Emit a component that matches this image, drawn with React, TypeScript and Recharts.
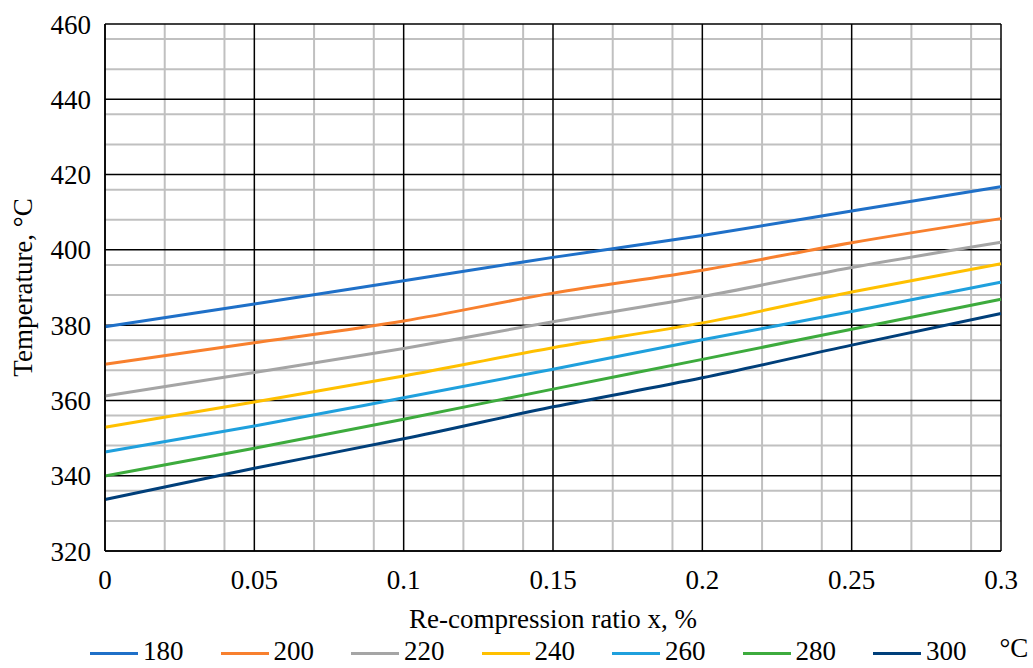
import React from 'react';
import { LineChart, Line, XAxis, YAxis, CartesianGrid } from 'recharts';

// re-compression ratio (x axis)
const ratios = [0, 0.05, 0.1, 0.15, 0.2, 0.25, 0.3];

// temperature curves, one per inlet temperature
const t180 = [379.6, 385.6, 391.8, 398.0, 403.8, 410.3, 416.8];
const t200 = [369.6, 375.3, 381.1, 388.5, 394.6, 401.9, 408.3];
const t220 = [361.2, 367.4, 373.8, 380.9, 387.6, 395.3, 402.0];
const t240 = [352.9, 359.6, 366.5, 374.0, 380.6, 388.8, 396.3];
const t260 = [346.3, 353.2, 360.7, 368.3, 376.1, 383.6, 391.4];
const t280 = [339.9, 347.3, 355.0, 363.0, 370.9, 378.9, 386.9];
const t300 = [333.7, 342.0, 349.8, 358.3, 366.0, 374.7, 383.1];

const xTicks = [0, 0.05, 0.1, 0.15, 0.2, 0.25, 0.3];
const xTickLabels = ['0', '0.05', '0.1', '0.15', '0.2', '0.25', '0.3'];
const yTicks = [320, 340, 360, 380, 400, 420, 440, 460];
const xMinor = [0.01, 0.02, 0.03, 0.04, 0.06, 0.07, 0.08, 0.09, 0.11, 0.12, 0.13, 0.14, 0.16, 0.17, 0.18, 0.19, 0.21, 0.22, 0.23, 0.24, 0.26, 0.27, 0.28, 0.29];
const yMinor = [324, 328, 332, 336, 344, 348, 352, 356, 364, 368, 372, 376, 384, 388, 392, 396, 404, 408, 412, 416, 424, 428, 432, 436, 444, 448, 452, 456];

const seriesNames = ['180', '200', '220', '240', '260', '280', '300'];
const seriesValues = [t180, t200, t220, t240, t260, t280, t300];
const colors = ['#1F70C8', '#F8802E', '#A5A5A5', '#FFC000', '#1FA0DD', '#3DAB3D', '#003F7A'];

const data = ratios.map((x, i) => {
  const row: any = { x };
  seriesNames.forEach((n, k) => {
    row[n] = seriesValues[k][i];
  });
  return row;
});

const font = "'Liberation Serif', serif";
const css = `
  .chart-box, .chart-box text, .chart-box span { font-family: 'Liberation Serif', serif !important; }
`;

export default function App() {
  return (
    <div className="chart-box" style={{ position: 'absolute', left: 0, top: 0, width: 1033, height: 668, background: '#fff', fontFamily: font, overflow: 'hidden' }}>
      <style>{css}</style>
      <LineChart width={1033} height={668} data={data} margin={{ top: 24, right: 32, left: 0, bottom: 0 }}>
        <CartesianGrid
          stroke="#c0c0c0"
          strokeWidth={2}
          horizontalValues={yMinor}
          verticalValues={xMinor}
        />
        <CartesianGrid stroke="#000" strokeWidth={1.5} horizontalValues={yTicks} verticalValues={xTicks} />
        <XAxis
          dataKey="x"
          type="number"
          domain={[0, 0.3]}
          ticks={xTicks}
          tickFormatter={(v: number) => xTickLabels[xTicks.indexOf(v)] ?? String(v)}
          height={117}
          tickLine={false}
          tickSize={0}
          tickMargin={19}
          axisLine={{ stroke: '#000', strokeWidth: 1.5 }}
          tick={{ fill: '#000', fontSize: 27, fontFamily: font }}
          label={{ value: 'Re-compression ratio x, %', position: 'insideBottom', offset: 40, fill: '#000', fontSize: 27, fontFamily: font }}
        />
        <YAxis
          type="number"
          domain={[320, 460]}
          ticks={yTicks}
          width={105}
          tickLine={false}
          tickSize={0}
          tickMargin={14}
          axisLine={{ stroke: '#000', strokeWidth: 1.5 }}
          tick={{ fill: '#000', fontSize: 27, fontFamily: font }}
          label={{ value: 'Temperature, °C', angle: -90, position: 'insideLeft', offset: 22, fill: '#000', fontSize: 27, fontFamily: font, style: { textAnchor: 'middle' } }}
        />
        {seriesNames.map((n, k) => (
          <Line
            key={n}
            type="monotone"
            dataKey={n}
            stroke={colors[k]}
            strokeWidth={3}
            dot={false}
            isAnimationActive={false}
          />
        ))}
      </LineChart>
      <div style={{ position: 'absolute', left: 90, top: 636, display: 'flex', alignItems: 'center', height: 30 }}>
        {seriesNames.map((n, k) => (
          <div key={n} style={{ width: 130.5, height: 30, display: 'flex', alignItems: 'center' }}>
            <div style={{ width: 48, height: 3, background: colors[k], marginRight: 5, marginTop: 5 }} />
            <span style={{ fontSize: 27, lineHeight: '30px', color: '#000' }}>{n}</span>
          </div>
        ))}
        <span style={{ fontSize: 27, lineHeight: '30px', color: '#000', marginLeft: -4, marginTop: -6 }}>°C</span>
      </div>
    </div>
  );
}
